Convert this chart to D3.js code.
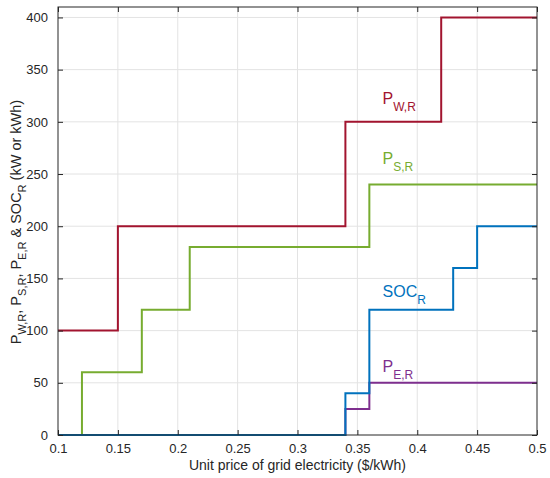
<!DOCTYPE html>
<html>
<head>
<meta charset="utf-8">
<script src="https://cdn.jsdelivr.net/npm/d3@7"></script>
<style>
  body { margin: 0; background: #fff; }
  text { font-family: "Liberation Sans", Arial, sans-serif; }
</style>
</head>
<body>
<svg id="viz"></svg>
<script>
// step data: each value holds from its price until the next price
const pwPrice = [0.1, 0.15, 0.34, 0.42, 0.5];
const pwValue = [100, 200, 300, 400];

const psPrice = [0.1, 0.12, 0.17, 0.21, 0.36, 0.5];
const psValue = [0, 60, 120, 180, 240];

const socPrice = [0.1, 0.34, 0.36, 0.43, 0.45, 0.5];
const socValue = [0, 40, 120, 160, 200];

const pePrice = [0.1, 0.34, 0.36, 0.5];
const peValue = [0, 25, 50];

const xTicks = [0.1, 0.15, 0.2, 0.25, 0.3, 0.35, 0.4, 0.45, 0.5];
const yTicks = [0, 50, 100, 150, 200, 250, 300, 350, 400];

const app = {
    init() {
        const width = 550, height = 478;
        const left = 58, right = 537, top = 7, bottom = 435;

        const svg = d3.select("#viz").attr("width", width).attr("height", height);

        const x = d3.scaleLinear().domain([0.1, 0.5]).range([left, right]);
        const y = d3.scaleLinear().domain([0, 410]).range([bottom, top]);

        // grid
        svg.append("g").selectAll("line").data(xTicks.slice(1, -1)).enter().append("line")
            .attr("x1", d => x(d)).attr("x2", d => x(d)).attr("y1", top).attr("y2", bottom)
            .attr("stroke", "#e3e3e3").attr("stroke-width", 1);
        svg.append("g").selectAll("line").data(yTicks.slice(1)).enter().append("line")
            .attr("x1", left).attr("x2", right).attr("y1", d => y(d)).attr("y2", d => y(d))
            .attr("stroke", "#e3e3e3").attr("stroke-width", 1);

        const series = [
            {price: pwPrice, value: pwValue, color: "#a2142f"},
            {price: psPrice, value: psValue, color: "#77ac30"},
            {price: pePrice, value: peValue, color: "#7e2f8e"},
            {price: socPrice, value: socValue, color: "#0072bd"}
        ];

        const line = d3.line().x(d => x(d[0])).y(d => y(d[1])).curve(d3.curveStepAfter);
        series.forEach(s => {
            const pts = s.value.map((v, i) => [s.price[i], v]);
            pts.push([s.price[s.price.length - 1], s.value[s.value.length - 1]]);
            svg.append("path").attr("d", line(pts)).attr("fill", "none")
                .attr("stroke", s.color).attr("stroke-width", 2);
        });

        // axes (box with inward ticks)
        const axisColor = "#262626";
        const xb = svg.append("g").attr("transform", `translate(0,${bottom})`)
            .call(d3.axisBottom(x).tickValues(xTicks).tickSizeInner(-5).tickSizeOuter(0).tickPadding(9).tickFormat(d3.format("")));
        const xt = svg.append("g").attr("transform", `translate(0,${top})`)
            .call(d3.axisTop(x).tickValues(xTicks).tickSizeInner(-5).tickSizeOuter(0).tickFormat(""));
        const yl = svg.append("g").attr("transform", `translate(${left},0)`)
            .call(d3.axisLeft(y).tickValues(yTicks).tickSizeInner(-5).tickSizeOuter(0).tickPadding(10));
        const yr = svg.append("g").attr("transform", `translate(${right},0)`)
            .call(d3.axisRight(y).tickValues(yTicks).tickSizeInner(-5).tickSizeOuter(0).tickFormat(""));
        [xb, xt, yl, yr].forEach(g => {
            g.select(".domain").remove();
            g.selectAll("line").attr("stroke", axisColor);
            g.selectAll("text").attr("fill", axisColor).style("font-size", "13px")
                .style("font-family", "'Liberation Sans', Arial, sans-serif");
        });
        svg.append("rect").attr("x", left).attr("y", top).attr("width", right - left).attr("height", bottom - top)
            .attr("fill", "none").attr("stroke", axisColor).attr("stroke-width", 1);

        // series labels
        const labels = [
            {main: "P", sub: "W,R", px: 0.371, py: 317, color: "#a2142f"},
            {main: "P", sub: "S,R", px: 0.371, py: 260, color: "#77ac30"},
            {main: "SOC", sub: "R", px: 0.371, py: 132, color: "#0072bd"},
            {main: "P", sub: "E,R", px: 0.371, py: 60, color: "#7e2f8e"}
        ];
        labels.forEach(l => {
            const t = svg.append("text").attr("x", x(l.px)).attr("y", y(l.py))
                .attr("fill", l.color).style("font-size", "16px");
            t.append("tspan").text(l.main);
            t.append("tspan").attr("dy", 7).style("font-size", "12px").text(l.sub);
        });

        // axis titles
        svg.append("text").attr("x", (left + right) / 2).attr("y", 470).attr("text-anchor", "middle")
            .attr("fill", axisColor).style("font-size", "14px").text("Unit price of grid electricity ($/kWh)");

        const yt = svg.append("text").attr("transform", `translate(21,222) rotate(-90)`)
            .attr("text-anchor", "middle").attr("fill", axisColor).style("font-size", "14.5px");
        const parts = [["P", "W,R", ", "], ["P", "S,R", ", "], ["P", "E,R", " & "], ["SOC", "R", " (kW or kWh)"]];
        parts.forEach(p => {
            yt.append("tspan").attr("dy", 0).text(p[0]);
            yt.append("tspan").attr("dy", 5).style("font-size", "11px").text(p[1]);
            yt.append("tspan").attr("dy", -5).text(p[2]);
        });
    }
};

window.addEventListener("DOMContentLoaded", () => app.init());
</script>
</body>
</html>
